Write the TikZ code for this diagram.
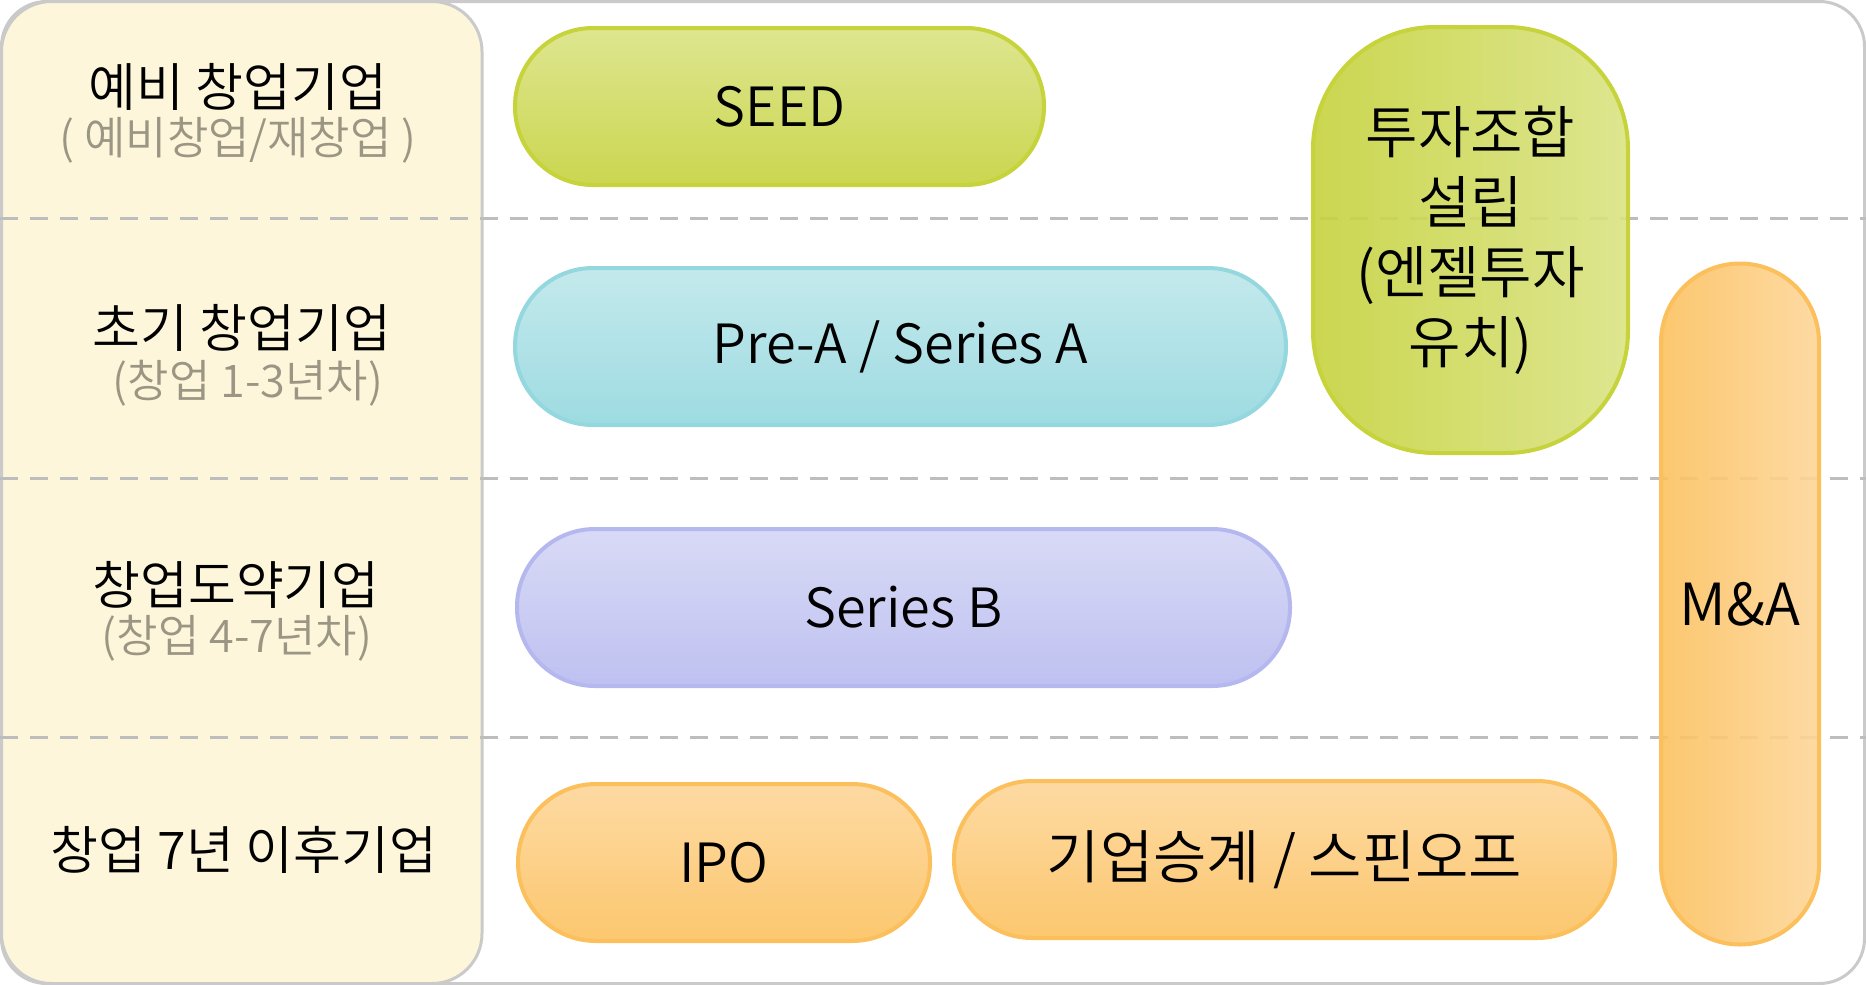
\documentclass[tikz,border=0pt]{standalone}
\usepackage{fontspec}
\setmainfont{Noto Sans CJK KR}[UprightFont=* DemiLight]
\usepackage{tikz}

\definecolor{frameGray}{HTML}{CACACA}
\definecolor{dashGray}{HTML}{BDBDBD}
\definecolor{panelCream}{HTML}{FDF6DA}
\definecolor{subGray}{HTML}{9B9583}
\definecolor{greenTop}{HTML}{DAE383}
\definecolor{greenBot}{HTML}{C5D23D}
\definecolor{greenLine}{HTML}{C6D33B}
\definecolor{cyanTop}{HTML}{BDE7EA}
\definecolor{cyanBot}{HTML}{93D7DE}
\definecolor{cyanLine}{HTML}{94D7DF}
\definecolor{lilacTop}{HTML}{D5D6F5}
\definecolor{lilacBot}{HTML}{B7BAEF}
\definecolor{lilacLine}{HTML}{B5B8EE}
\definecolor{orangeTop}{HTML}{FDD699}
\definecolor{orangeBot}{HTML}{FCC15F}
\definecolor{orangeLine}{HTML}{FBBF5B}

\begin{document}
\begin{tikzpicture}[x=1pt,y=-1pt,
    every node/.style={inner sep=0pt, outer sep=0pt},
    stagename/.style={font=\fontsize{52}{58}\selectfont},
    stagesub/.style={font=\fontsize{45}{50}\selectfont, text=subGray},
    pill/.style={draw, line width=4pt, rounded corners=78pt, minimum height=157pt,
        fill opacity=0.9, text opacity=1, font=\fontsize{54}{60}\selectfont},
    greenpill/.style={pill, draw=greenLine, top color=greenTop, bottom color=greenBot},
    cyanpill/.style={pill, draw=cyanLine, top color=cyanTop, bottom color=cyanBot},
    lilacpill/.style={pill, draw=lilacLine, top color=lilacTop, bottom color=lilacBot},
    orangepill/.style={pill, draw=orangeLine, top color=orangeTop, bottom color=orangeBot},
    rowline/.style={draw=dashGray, line width=3pt, dash pattern=on 18pt off 12pt}]
    \useasboundingbox (0,0) rectangle (1866,985);
    % frame and stage column
    \draw[frameGray, line width=3pt, rounded corners=45pt] (1.5,1.5) rectangle (1864.5,983.5);
    \draw[frameGray, fill=panelCream, line width=3pt, rounded corners=50pt] (1.5,1.5) rectangle (482,983.5);
    \foreach \y in {218,478,737}
        \draw[rowline] (0,\y) -- (1866,\y);
    % stages
    \node[stagename] (pre) at (238,87) {예비 창업기업};
    \node[stagesub] (presub) at (238,140) {( 예비창업/재창업 )};
    \node[stagename] (early) at (242,328) {초기 창업기업};
    \node[stagesub] (earlysub) at (248,383) {(창업 1-3년차)};
    \node[stagename] (leap) at (236,585) {창업도약기업};
    \node[stagesub] (leapsub) at (237,638) {(창업 4-7년차)};
    \node[stagename] (mature) at (244,850) {창업 7년 이후기업};
    % investment steps
    \node[greenpill, minimum width=529pt] (seed) at (779.5,106.5) {SEED};
    \node[cyanpill, minimum width=771pt] (seriesa) at (900.5,346.5) {Pre-A / Series A};
    \node[lilacpill, minimum width=773pt] (seriesb) at (903.5,607.5) {Series B};
    \node[orangepill, minimum width=412pt] (ipo) at (724,862.5) {IPO};
    \node[orangepill, minimum width=661pt, font=\fontsize{58}{64}\selectfont] (spinoff) at (1284.5,859.5) {기업승계 / 스핀오프};
    \node[pill, draw=greenLine, left color=greenBot, right color=greenTop,
        minimum width=315pt, minimum height=426pt, rounded corners=122pt,
        align=center, font=\fontsize{57}{70}\selectfont] (fund) at (1470.5,240)
        {투자조합\\설립\\(엔젤투자\\유치)};
    \node[pill, draw=orangeLine, left color=orangeBot, right color=orangeTop,
        minimum width=158pt, minimum height=681pt, rounded corners=79pt,
        font=\fontsize{58}{64}\selectfont] (ma) at (1740,604) {M\&A};
\end{tikzpicture}
\end{document}
